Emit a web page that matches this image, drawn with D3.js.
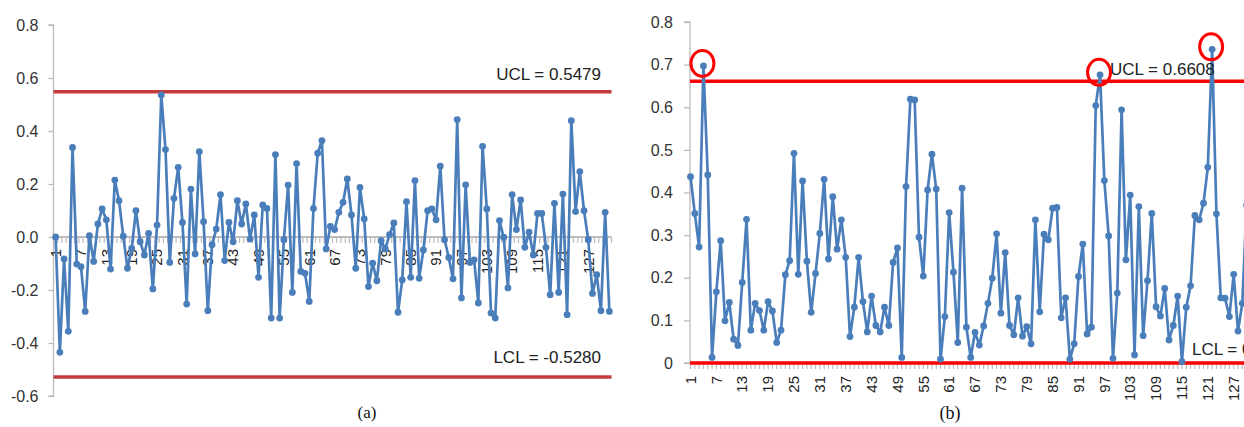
<!DOCTYPE html>
<html><head><meta charset="utf-8">
<script src="https://cdn.jsdelivr.net/npm/d3@7"></script>
<style>
html,body{margin:0;padding:0;background:#fff;overflow:hidden}
svg{display:block}
</style></head><body>
<svg id="chart" width="1244" height="427"></svg>
<script>
// Panel (a): residual-type chart, symmetric control limits
const valuesA = [
  0.000,-0.435,-0.083,-0.356, 0.338,-0.102,-0.112,-0.281, 0.005,-0.092,
  0.049, 0.106, 0.065,-0.121, 0.215, 0.137, 0.003,-0.118,-0.043, 0.099,
 -0.018,-0.068, 0.014,-0.196, 0.045, 0.536, 0.330,-0.096, 0.146, 0.263,
  0.055,-0.253, 0.181,-0.064, 0.322, 0.058,-0.278,-0.029, 0.030, 0.160,
 -0.089, 0.055,-0.018, 0.137, 0.049, 0.125,-0.008, 0.083,-0.152, 0.121,
  0.108,-0.306, 0.311,-0.306,-0.010, 0.196,-0.209, 0.277,-0.130,-0.137,
 -0.243, 0.108, 0.316, 0.364,-0.045, 0.040, 0.028, 0.093, 0.131, 0.219,
  0.083,-0.118, 0.187, 0.068,-0.187,-0.099,-0.165,-0.014,-0.045, 0.009,
  0.053,-0.284,-0.162, 0.133,-0.152, 0.213,-0.156,-0.049, 0.099, 0.106,
  0.065, 0.267,-0.010,-0.077,-0.158, 0.443,-0.230, 0.197,-0.096,-0.086,
 -0.249, 0.342, 0.106,-0.287,-0.306, 0.062,-0.001,-0.192, 0.160, 0.028,
  0.140,-0.039, 0.018,-0.068, 0.089, 0.089,-0.039,-0.218, 0.127,-0.209,
  0.162,-0.293, 0.439, 0.096, 0.247, 0.099,-0.010,-0.213,-0.142,-0.278,
  0.093,-0.281
];
// Panel (b): one-sided chart with out-of-control points
const valuesB = [
  0.437, 0.351, 0.272, 0.697, 0.441, 0.013, 0.167, 0.287, 0.099, 0.142,
  0.056, 0.041, 0.189, 0.337, 0.077, 0.140, 0.123, 0.077, 0.144, 0.122,
  0.048, 0.077, 0.207, 0.240, 0.492, 0.208, 0.427, 0.239, 0.119, 0.210,
  0.304, 0.431, 0.244, 0.390, 0.267, 0.336, 0.248, 0.062, 0.131, 0.248,
  0.144, 0.073, 0.157, 0.088, 0.073, 0.131, 0.088, 0.236, 0.270, 0.013,
  0.414, 0.619, 0.617, 0.295, 0.204, 0.406, 0.490, 0.408, 0.009, 0.109,
  0.353, 0.213, 0.048, 0.410, 0.084, 0.013, 0.072, 0.042, 0.087, 0.140,
  0.199, 0.303, 0.117, 0.259, 0.088, 0.066, 0.153, 0.063, 0.085, 0.045,
  0.336, 0.120, 0.302, 0.289, 0.363, 0.365, 0.106, 0.153, 0.009, 0.045,
  0.203, 0.279, 0.068, 0.084, 0.604, 0.676, 0.428, 0.298, 0.011, 0.164,
  0.594, 0.242, 0.394, 0.019, 0.367, 0.064, 0.193, 0.351, 0.132, 0.110,
  0.175, 0.054, 0.088, 0.157, 0.003, 0.131, 0.181, 0.346, 0.336, 0.375,
  0.459, 0.736, 0.350, 0.153, 0.152, 0.109, 0.208, 0.075, 0.140, 0.370
];

const categoriesA = d3.range(1, valuesA.length + 1);
const categoriesB = d3.range(1, valuesB.length + 1);
const xTickLabelsA = [1,7,13,19,25,31,37,43,49,55,61,67,73,79,85,91,97,103,109,115,121,127];
const xTickLabelsB = [1,7,13,19,25,31,37,43,49,55,61,67,73,79,85,91,97,103,109,115,121,127];
const yTicksA = [-0.6,-0.4,-0.2,0,0.2,0.4,0.6,0.8];
const yTicksB = [0,0.1,0.2,0.3,0.4,0.5,0.6,0.7,0.8];
const uclA = 0.5479, lclA = -0.5280;
const uclB = 0.6608, lclB = 0;
const captions = ["(a)", "(b)"];

const FONT = "'Liberation Sans', Arial, sans-serif";
const BLUE = "#4a7ebb";
const AXIS = "#bcbcbc";
const TEXT = "#333333";

const svg = d3.select("#chart");

/* ---------------- panel (a) ---------------- */
const gA = svg.append("g");
const yA = d3.scaleLinear().domain([-0.6, 0.8]).range([396, 25]);
const xA = d3.scaleBand().domain(categoriesA).range([53.5, 611.5]).padding(0);
const cxA = c => xA(c) + xA.bandwidth() / 2;

// value axis
const yAxisA = gA.append("g").attr("transform", "translate(53.5,0)")
  .call(d3.axisLeft(yA).tickValues(yTicksA).tickFormat(d => d.toFixed(1)).tickSize(5).tickPadding(10));
yAxisA.select(".domain").attr("stroke", AXIS).attr("stroke-width", 1.3).attr("d", `M-5,${yA(0.8)}H0V${yA(-0.6)}H-5`);
yAxisA.selectAll(".tick line").attr("stroke", AXIS).attr("stroke-width", 1.3);
yAxisA.selectAll("text").attr("font-family", FONT).attr("font-size", 16).attr("fill", TEXT);

// category axis crossing at zero
gA.append("line").attr("x1", 53.5).attr("x2", 611.5).attr("y1", yA(0)).attr("y2", yA(0))
  .attr("stroke", AXIS).attr("stroke-width", 2);
gA.append("g").selectAll("line").data(categoriesA.concat([null])).join("line")
  .attr("x1", c => c === null ? 611.5 : xA(c)).attr("x2", c => c === null ? 611.5 : xA(c))
  .attr("y1", yA(0)).attr("y2", yA(0) + 6)
  .attr("stroke", AXIS).attr("stroke-width", 1.2);
gA.append("g").selectAll("text").data(xTickLabelsA).join("text")
  .attr("transform", c => `translate(${cxA(c)},${yA(0) + 12}) rotate(-90)`)
  .attr("text-anchor", "end").attr("dy", "0.35em")
  .attr("font-family", FONT).attr("font-size", 15).attr("fill", "#222")
  .text(c => c);

// control limits
[[uclA, "UCL = 0.5479", -12], [lclA, "LCL = -0.5280", -14]].forEach(([v, label, off]) => {
  gA.append("line").attr("x1", 53.5).attr("x2", 611.5).attr("y1", yA(v)).attr("y2", yA(v))
    .attr("stroke", "#c43b3b").attr("stroke-width", 3.5);
  gA.append("text").attr("x", 601).attr("y", yA(v) + off).attr("text-anchor", "end")
    .attr("font-family", FONT).attr("font-size", 17).attr("fill", "#222").text(label);
});

// series
gA.append("path").datum(valuesA)
  .attr("d", d3.line().x((d, i) => cxA(categoriesA[i])).y(d => yA(d)))
  .attr("fill", "none").attr("stroke", BLUE).attr("stroke-width", 2.7).attr("stroke-linejoin", "round");
gA.append("g").selectAll("circle").data(valuesA).join("circle")
  .attr("cx", (d, i) => cxA(categoriesA[i])).attr("cy", d => yA(d)).attr("r", 3.4).attr("fill", BLUE);

gA.append("text").attr("x", 367).attr("y", 418).attr("text-anchor", "middle")
  .attr("font-family", "'Liberation Serif', 'Times New Roman', serif").attr("font-size", 17).attr("fill", "#111")
  .text(captions[0]);

/* ---------------- panel (b) ---------------- */
const gB = svg.append("g");
const yB = d3.scaleLinear().domain([0, 0.8]).range([363, 22]);
const xB = d3.scaleLinear().domain([1, valuesB.length]).range([690.5, 690.5 + (valuesB.length - 1) * 4.311]);

const yAxisB = gB.append("g").attr("transform", "translate(690,0)")
  .call(d3.axisLeft(yB).tickValues(yTicksB).tickFormat(d => d === 0 ? "0" : d.toFixed(1)).tickSize(6).tickPadding(11));
yAxisB.select(".domain").attr("stroke", AXIS).attr("stroke-width", 1.3).attr("d", `M-6,${yB(0.8)}H0V${yB(0)}H-6`);
yAxisB.selectAll(".tick line").attr("stroke", AXIS).attr("stroke-width", 1.3);
yAxisB.selectAll("text").attr("font-family", FONT).attr("font-size", 16).attr("fill", TEXT);

// category axis with a mark under every sample
const tickCatsB = d3.range(1, 135);
gB.append("line").attr("x1", 690).attr("x2", 1260).attr("y1", yB(0)).attr("y2", yB(0))
  .attr("stroke", AXIS).attr("stroke-width", 1.3);
gB.append("g").selectAll("line").data(tickCatsB).join("line")
  .attr("x1", c => xB(c)).attr("x2", c => xB(c))
  .attr("y1", yB(0)).attr("y2", yB(0) + 6)
  .attr("stroke", AXIS).attr("stroke-width", 1.2);
gB.append("g").selectAll("text").data(xTickLabelsB).join("text")
  .attr("transform", c => `translate(${xB(c)},${yB(0) + 13}) rotate(-90)`)
  .attr("text-anchor", "end").attr("dy", "0.35em")
  .attr("font-family", FONT).attr("font-size", 15).attr("fill", "#222")
  .text(c => c);

// control limits
[uclB, lclB].forEach(v => {
  gB.append("line").attr("x1", 690).attr("x2", 1260).attr("y1", yB(v)).attr("y2", yB(v))
    .attr("stroke", "#ff0000").attr("stroke-width", 3.5);
});

// series
gB.append("path").datum(valuesB)
  .attr("d", d3.line().x((d, i) => xB(categoriesB[i])).y(d => yB(d)))
  .attr("fill", "none").attr("stroke", BLUE).attr("stroke-width", 2.7).attr("stroke-linejoin", "round");
gB.append("g").selectAll("circle").data(valuesB).join("circle")
  .attr("cx", (d, i) => xB(categoriesB[i])).attr("cy", d => yB(d)).attr("r", 3.4).attr("fill", BLUE);

gB.append("text").attr("x", 1110).attr("y", yB(uclB) - 6)
  .attr("font-family", FONT).attr("font-size", 17).attr("fill", "#222").text("UCL = 0.6608");
gB.append("text").attr("x", 1192).attr("y", yB(lclB) - 8)
  .attr("font-family", FONT).attr("font-size", 17).attr("fill", "#222").text("LCL = 0");

// ring every sample above the upper limit
const outB = categoriesB.filter((c, i) => valuesB[i] > uclB);
gB.append("g").selectAll("ellipse").data(outB).join("ellipse")
  .attr("cx", c => xB(c) - 1).attr("cy", c => yB(valuesB[c - 1]) - 2.5)
  .attr("rx", 11.5).attr("ry", 13)
  .attr("fill", "none").attr("stroke", "#ff0000").attr("stroke-width", 3);

gB.append("text").attr("x", 950).attr("y", 419).attr("text-anchor", "middle")
  .attr("font-family", "'Liberation Serif', 'Times New Roman', serif").attr("font-size", 18).attr("fill", "#111")
  .text(captions[1]);
</script>
</body></html>
